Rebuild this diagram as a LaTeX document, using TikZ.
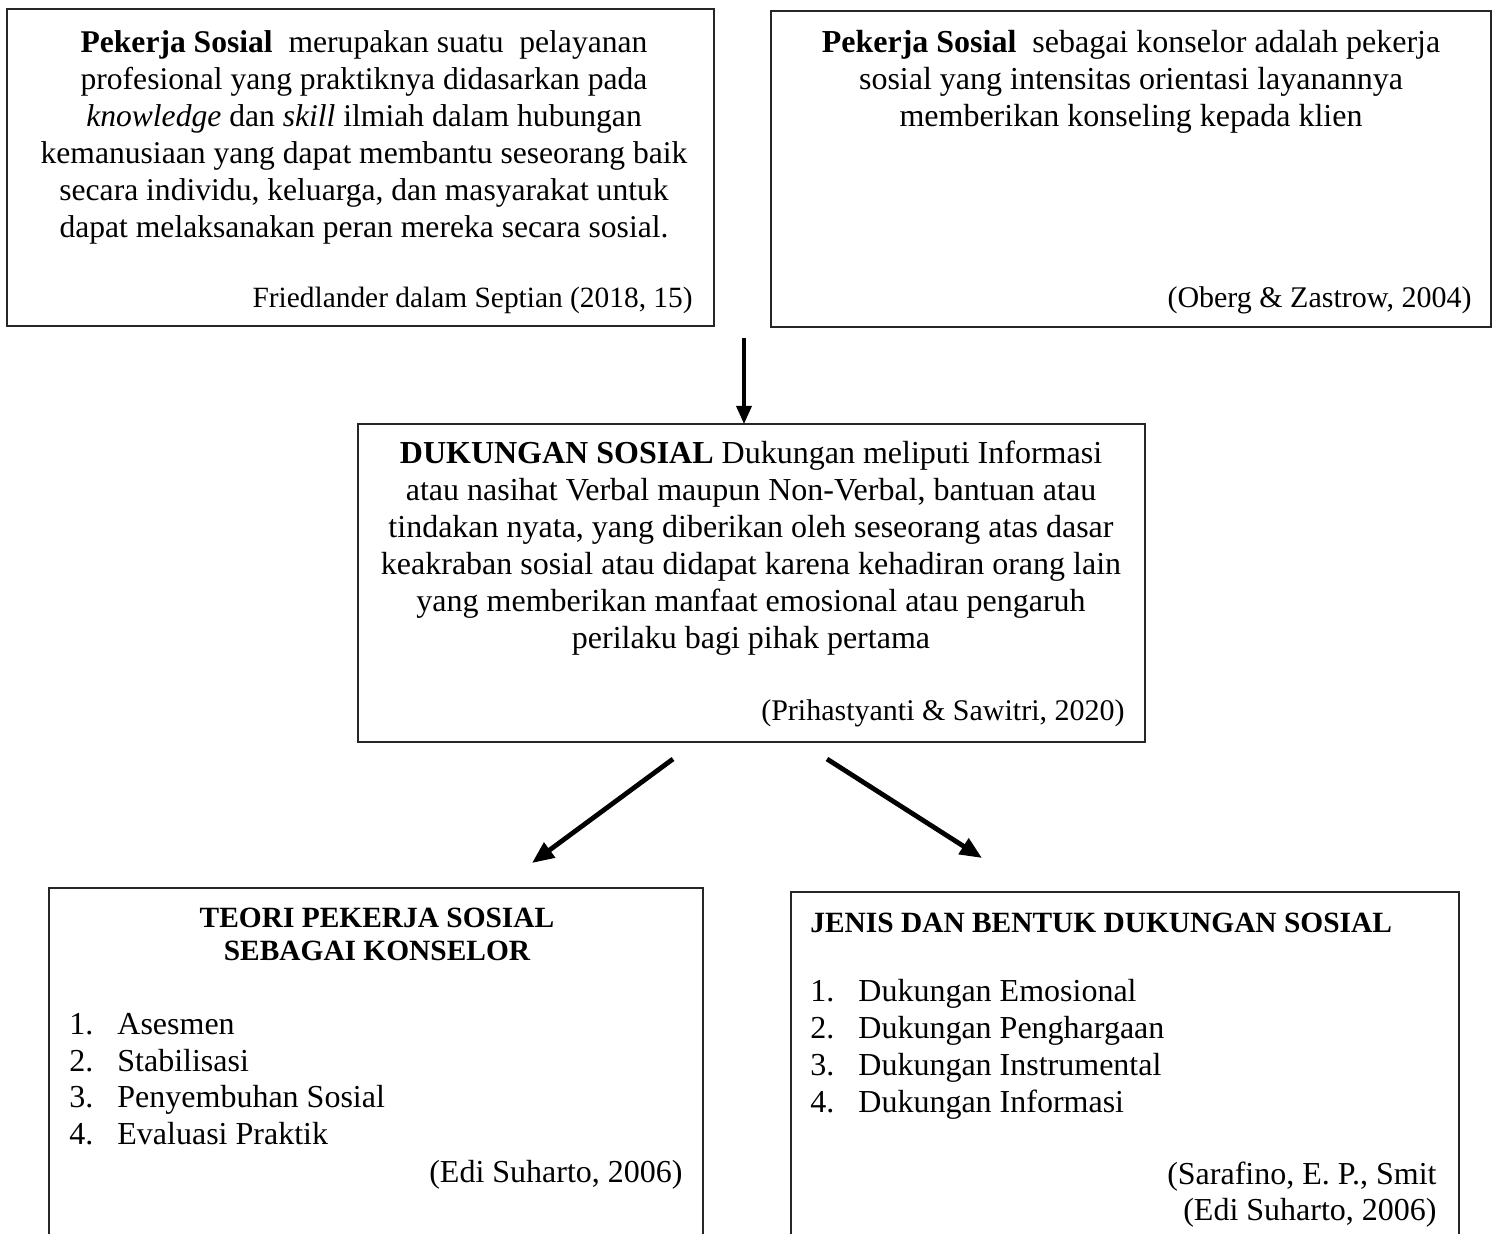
\documentclass[tikz,border=0pt]{standalone}
\usepackage{fontspec}
\setmainfont{Liberation Serif}
\usetikzlibrary{arrows.meta}
\begin{document}
\begin{tikzpicture}[x=0.5pt,y=-0.5pt,
  box/.style={draw=black!85, line width=0.75pt, inner sep=0pt, outer sep=0pt},
  openbox/.style={inner sep=0pt, outer sep=0pt},
  txt/.style={inner sep=0pt, font=\fontsize{16}{18.5}\selectfont},
  cite/.style={inner sep=0pt, font=\fontsize{15}{18.5}\selectfont},
  ttl/.style={inner sep=0pt, font=\fontsize{14.7}{16.5}\selectfont\bfseries},
  flow/.style={-{Triangle[length=9pt,width=7.5pt]}, line width=1.7pt},
  flowd/.style={-{Triangle[length=11pt,width=9pt]}, line width=2.4pt}]
\useasboundingbox (0,0) rectangle (1498,1234);
% boxes
\node[box, minimum width=353.5pt, minimum height=158.5pt] (b1) at (360.5,167.5) {};
\node[box, minimum width=360pt, minimum height=158pt] (b2) at (1131,169) {};
\node[box, minimum width=393.5pt, minimum height=159pt] (b3) at (751.5,583) {};
\node[openbox, minimum width=327pt, minimum height=173pt] (b4) at (376,1061) {};
\node[openbox, minimum width=334pt, minimum height=171pt] (b5) at (1125,1063) {};
\draw[draw=black!85, line width=0.75pt] (b4.south west) -- (b4.north west) -- (b4.north east) -- (b4.south east);
\draw[draw=black!85, line width=0.75pt] (b5.south west) -- (b5.north west) -- (b5.north east) -- (b5.south east);
% box 1 text
\node[txt, font=\fontsize{15.8}{18.5}\selectfont, anchor=north, align=center] (t1) at (364,30) {\textbf{Pekerja Sosial}\ \ merupakan suatu\ \ pelayanan\\
profesional yang praktiknya didasarkan pada\\
\textit{knowledge} dan \textit{skill} ilmiah dalam hubungan\\
kemanusiaan yang dapat membantu seseorang baik\\
secara individu, keluarga, dan masyarakat untuk\\
dapat melaksanakan peran mereka secara sosial.};
\node[cite, font=\fontsize{14.7}{18.5}\selectfont, anchor=base east] (c1) at (693,308) {Friedlander dalam Septian (2018, 15)};
% box 2 text
\node[txt, anchor=north, align=center] (t2) at (1131,30) {\textbf{Pekerja Sosial}\ \ sebagai konselor adalah pekerja\\
sosial yang intensitas orientasi layanannya\\
memberikan konseling kepada klien};
\node[cite, anchor=base east] (c2) at (1472,308) {(Oberg \& Zastrow, 2004)};
% box 3 text
\node[txt, anchor=north, align=center] (t3) at (751,441) {\textbf{DUKUNGAN SOSIAL} Dukungan meliputi Informasi\\
atau nasihat Verbal maupun Non-Verbal, bantuan atau\\
tindakan nyata, yang diberikan oleh seseorang atas dasar\\
keakraban sosial atau didapat karena kehadiran orang lain\\
yang memberikan manfaat emosional atau pengaruh\\
perilaku bagi pihak pertama};
\node[cite, anchor=base east] (c3) at (1125,720) {(Prihastyanti \& Sawitri, 2020)};
% box 4 text
\node[ttl, anchor=north, align=center] (t4) at (377,908) {TEORI PEKERJA SOSIAL\\SEBAGAI KONSELOR};
\node[txt, anchor=base west] (l41) at (69,1034) {\makebox[24pt][l]{1.}Asesmen};
\node[txt, anchor=base west] (l42) at (69,1071) {\makebox[24pt][l]{2.}Stabilisasi};
\node[txt, anchor=base west] (l43) at (69,1107) {\makebox[24pt][l]{3.}Penyembuhan Sosial};
\node[txt, anchor=base west] (l44) at (69,1144) {\makebox[24pt][l]{4.}Evaluasi Praktik};
\node[txt, anchor=base east] (c4) at (683,1182) {(Edi Suharto, 2006)};
% box 5 text
\node[ttl, anchor=base west] (t5) at (810,932) {JENIS DAN BENTUK DUKUNGAN SOSIAL};
\node[txt, anchor=base west] (l51) at (810,1001) {\makebox[24pt][l]{1.}Dukungan Emosional};
\node[txt, anchor=base west] (l52) at (810,1038) {\makebox[24pt][l]{2.}Dukungan Penghargaan};
\node[txt, anchor=base west] (l53) at (810,1075) {\makebox[24pt][l]{3.}Dukungan Instrumental};
\node[txt, anchor=base west] (l54) at (810,1112) {\makebox[24pt][l]{4.}Dukungan Informasi};
\node[txt, anchor=base east] (c5a) at (1437,1184) {(Sarafino, E. P., Smit};
\node[txt, anchor=base east] (c5b) at (1437,1220) {(Edi Suharto, 2006)};
% arrows
\coordinate (a1s) at (744,338);
\coordinate (a2s) at (673,759);
\coordinate (a2e) at (532,863);
\coordinate (a3s) at (827,759);
\coordinate (a3e) at (982,858);
\draw[flow] (a1s) -- (a1s |- b3.north);
\draw[flowd] (a2s) -- (a2e);
\draw[flowd] (a3s) -- (a3e);
\end{tikzpicture}
\end{document}
